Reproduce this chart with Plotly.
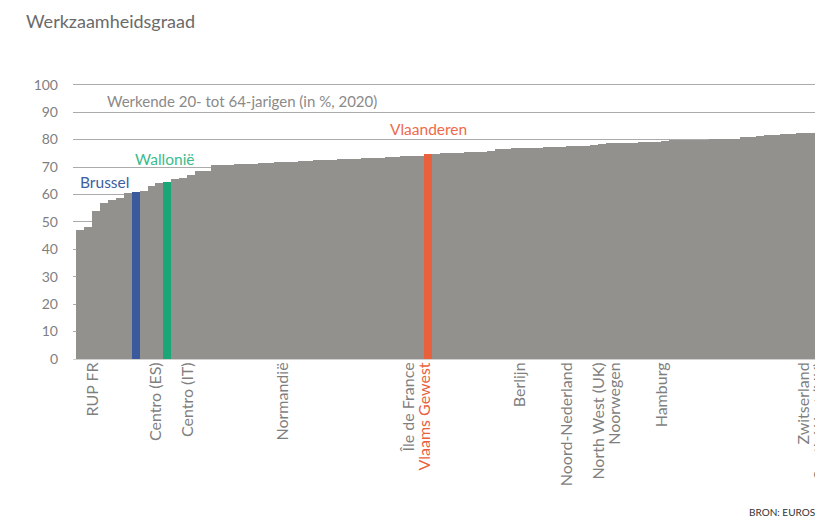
import plotly.graph_objects as go

# ---- data ----
values = [47.1, 48.1, 53.8, 56.8, 58.0, 58.6, 60.5, 61.0, 61.1, 63.1,
          64.3, 64.6, 65.7, 66.1, 67.2, 68.5, 68.6, 70.6, 70.7, 70.8,
          71.0, 71.1, 71.2, 71.4, 71.5, 71.7, 71.8, 72.0, 72.1, 72.3,
          72.5, 72.6, 72.7, 72.8, 72.9, 73.1, 73.2, 73.3, 73.4, 73.6,
          73.8, 73.9, 74.0, 74.2, 74.8, 74.9, 75.0, 75.1, 75.2, 75.3,
          75.5, 75.6, 76.0, 76.5, 76.7, 76.8, 76.9, 77.0, 77.1, 77.2,
          77.3, 77.4, 77.5, 77.6, 77.7, 78.0, 78.3, 78.6, 78.7, 78.8,
          78.9, 79.0, 79.1, 79.3, 79.6, 79.7, 79.8, 79.9, 80.0, 80.0,
          80.1, 80.2, 80.3, 80.4, 80.8, 81.0, 81.2, 81.5, 81.8, 82.0,
          82.2, 82.3, 82.4, 82.5, 82.6, 82.8]

label_idx = [2, 10, 14, 26, 42, 44, 56, 62, 66, 68, 74, 92, 94]
label_text = ["RUP FR", "Centro (ES)", "Centro (IT)", "Normandië", "Île de France",
              "Vlaams Gewest", "Berlijn", "Noord-Nederland", "North West (UK)",
              "Noorwegen", "Hamburg", "Zwitserland", "South West (UK)"]

highlight_names = ["Brussel", "Wallonië", "Vlaanderen"]
highlight_idx = [7, 11, 44]
highlight_colors = ["#395a9c", "#1aa676", "#e9603d"]
highlight_text_colors = ["#3d5e9f", "#3dbb8c", "#ee6a4a"]

title_text = "Werkzaamheidsgraad"
subtitle_text = "Werkende 20- tot 64-jarigen (in %, 2020)"
source_text = "BRON: EUROSTAT"

# ---- build ----
GRAY = "#93918d"
LABEL_GRAY = "#7f7f7f"
FONT = "Lato, 'Open Sans', sans-serif"
PAGE_OFFSET = 8  # default body margin of the html page

x = list(range(len(values)))
colors = [GRAY] * len(values)
for i, c in zip(highlight_idx, highlight_colors):
    colors[i] = c

ticktext = []
for i, t in zip(label_idx, label_text):
    col = highlight_colors[2] if i == highlight_idx[2] else LABEL_GRAY
    ticktext.append(f'<span style="color:{col}">{t}</span>')

fig = go.Figure(go.Bar(
    x=x, y=values, marker=dict(color=colors, line=dict(width=0)),
    width=1.0, offset=-0.07, hoverinfo="skip"))

W, H = 823, 518
fig.update_layout(
    width=W, height=H,
    margin=dict(l=73 - PAGE_OFFSET, r=PAGE_OFFSET, t=82 - PAGE_OFFSET,
                b=H - (359 - PAGE_OFFSET), autoexpand=False),
    plot_bgcolor="white", paper_bgcolor="white",
    bargap=0, showlegend=False,
    font=dict(family=FONT, color=LABEL_GRAY, size=13),
    title=dict(text=title_text, x=(26 - PAGE_OFFSET) / W, xanchor="left", xref="container",
               y=1 - (22 - PAGE_OFFSET) / H, yanchor="middle", yref="container",
               automargin=False,
               font=dict(size=18, color="#6a6a6a", family=FONT)),
)
fig.update_xaxes(range=[-0.5, 94.4], tickmode="array", tickvals=label_idx,
                 ticktext=ticktext, tickangle=-90, showgrid=False,
                 showline=True, linecolor="#d0d0d0", linewidth=1,
                 ticks="", ticklabelstandoff=-4,
                 tickfont=dict(size=16, color=LABEL_GRAY),
                 zeroline=False, automargin=False)
fig.update_yaxes(range=[0, 101], tickvals=list(range(0, 101, 10)),
                 showgrid=True, gridcolor="#ababab", gridwidth=1,
                 zeroline=False, ticks="", ticklabelstandoff=14,
                 tickfont=dict(size=14, color=LABEL_GRAY), automargin=False)

fig.add_annotation(text=subtitle_text, xref="paper", x=(105 - 73) / 750, xanchor="left",
                   yref="y", y=94.1, yanchor="middle", showarrow=False,
                   font=dict(size=15, color="#8a8a8a"))
ann_pos = [(6.8, 64.5, "right"), (11.1, 72.9, "center"), (44.5, 83.9, "center")]
for name, col, (ax_, ay_, anc) in zip(highlight_names, highlight_text_colors, ann_pos):
    fig.add_annotation(text=name, x=ax_, y=ay_, xref="x", yref="y",
                       xanchor=anc, yanchor="middle", showarrow=False,
                       font=dict(size=15.5, color=col))
fig.add_annotation(text=source_text, xref="paper", x=(747 - 73) / 750, xanchor="left",
                   yref="paper", y=(359 - 512) / 277, yanchor="middle", showarrow=False,
                   font=dict(size=10, color="#333333"))

fig.write_html("out.html")
